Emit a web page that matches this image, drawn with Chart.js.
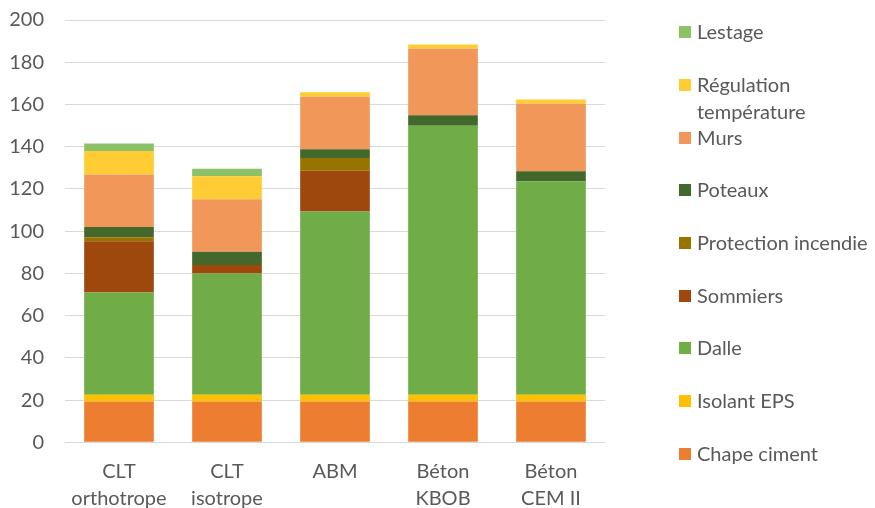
<!DOCTYPE html>
<html>
<head>
<meta charset="utf-8">
<script src="https://cdn.jsdelivr.net/npm/chart.js@4"></script>
<style>
    html, body { margin: 0; padding: 0; background: #fff; }
    #wrap { position: relative; width: 875px; height: 508px; }
    #legend { position: absolute; left: 0; top: 0; width: 875px; height: 508px; pointer-events: none; }
    .item { position: absolute; left: 679px; font-family: Lato, sans-serif; font-size: 20px; color: #595959; line-height: 27px; }
    .box { position: absolute; left: 0; top: 8px; width: 12px; height: 12px; }
    .txt { position: absolute; left: 18px; top: 0; width: 180px; }
</style>
</head>
<body>
<div id="wrap">
    <canvas id="chart" width="875" height="508"></canvas>
    <div id="legend"></div>
</div>
<script>
// categories
const categories = [['CLT', 'orthotrope'], ['CLT', 'isotrope'], ['ABM'], ['Béton', 'KBOB'], ['Béton', 'CEM II']];

// series, bottom of the stack first
const seriesNames = ['Chape ciment', 'Isolant EPS', 'Dalle', 'Sommiers', 'Protection incendie', 'Poteaux', 'Murs', 'Régulation température', 'Lestage'];
const seriesColors = ['#ED7D31', '#FFC000', '#70AD47', '#9E480E', '#997300', '#43682B', '#F1975A', '#FFCD33', '#8CC168'];

const chapeCiment = [19.3, 19.3, 19.3, 19.3, 19.3];
const isolantEps = [3.2, 3.2, 3.2, 3.2, 3.2];
const dalle = [48.4, 57.4, 86.8, 127.4, 101.0];
const sommiers = [24.3, 4.1, 19.3, 0, 0];
const protectionIncendie = [1.9, 0, 6.1, 0, 0];
const poteaux = [4.9, 6.3, 4.1, 5.0, 4.9];
const murs = [24.8, 24.8, 24.9, 31.5, 31.9];
const regulation = [11.2, 10.9, 2.1, 2.0, 2.0];
const lestage = [3.5, 3.5, 0, 0, 0];

const seriesValues = [chapeCiment, isolantEps, dalle, sommiers, protectionIncendie, poteaux, murs, regulation, lestage];

// y axis ticks
const yTicks = [0, 20, 40, 60, 80, 100, 120, 140, 160, 180, 200];

function buildLegend() {
    // legend is drawn top to bottom in reverse stack order, like excel
    const legend = document.getElementById('legend');
    const n = seriesNames.length;
    for (let i = 0; i < n; i++) {
        const s = n - 1 - i;
        const item = document.createElement('div');
        item.className = 'item';
        item.style.top = (31.7 + i * 52.7 - 13.5) + 'px';
        const box = document.createElement('div');
        box.className = 'box';
        box.style.background = seriesColors[s];
        const txt = document.createElement('div');
        txt.className = 'txt';
        txt.textContent = seriesNames[s];
        item.appendChild(box);
        item.appendChild(txt);
        legend.appendChild(item);
    }
}

function initChart() {
    const ctx = document.getElementById('chart').getContext('2d');
    const datasets = seriesNames.map((name, i) => ({
        label: name,
        data: seriesValues[i],
        backgroundColor: seriesColors[i],
        borderWidth: 0,
        barPercentage: 0.645,
        categoryPercentage: 1
    }));

    new Chart(ctx, {
        type: 'bar',
        data: { labels: categories, datasets: datasets },
        options: {
            responsive: false,
            animation: false,
            layout: { padding: { left: 0, right: 270, top: 20, bottom: 0 } },
            plugins: { legend: { display: false }, tooltip: { enabled: false } },
            scales: {
                x: {
                    stacked: true,
                    grid: { display: false },
                    border: { display: false },
                    ticks: {
                        color: '#595959',
                        font: { family: 'Lato', size: 20, lineHeight: 1.35 },
                        padding: 8,
                        maxRotation: 0
                    },
                    afterFit: (scale) => { scale.height = 65.7; }
                },
                y: {
                    stacked: true,
                    min: 0,
                    max: 200,
                    afterBuildTicks: (scale) => { scale.ticks = yTicks.map(v => ({ value: v })); },
                    grid: { color: '#D9D9D9', lineWidth: 1, drawTicks: false },
                    border: { display: false },
                    ticks: {
                        color: '#595959',
                        font: { family: 'Lato', size: 20 },
                        padding: 21
                    },
                    // keep the plot top at the layout padding
                    afterFit: (scale) => {
                        scale.width = 65;
                        scale.paddingTop = 0;
                        scale.paddingBottom = 0;
                    }
                }
            }
        }
    });
}

document.addEventListener('DOMContentLoaded', () => {
    buildLegend();
    initChart();
});
</script>
</body>
</html>
